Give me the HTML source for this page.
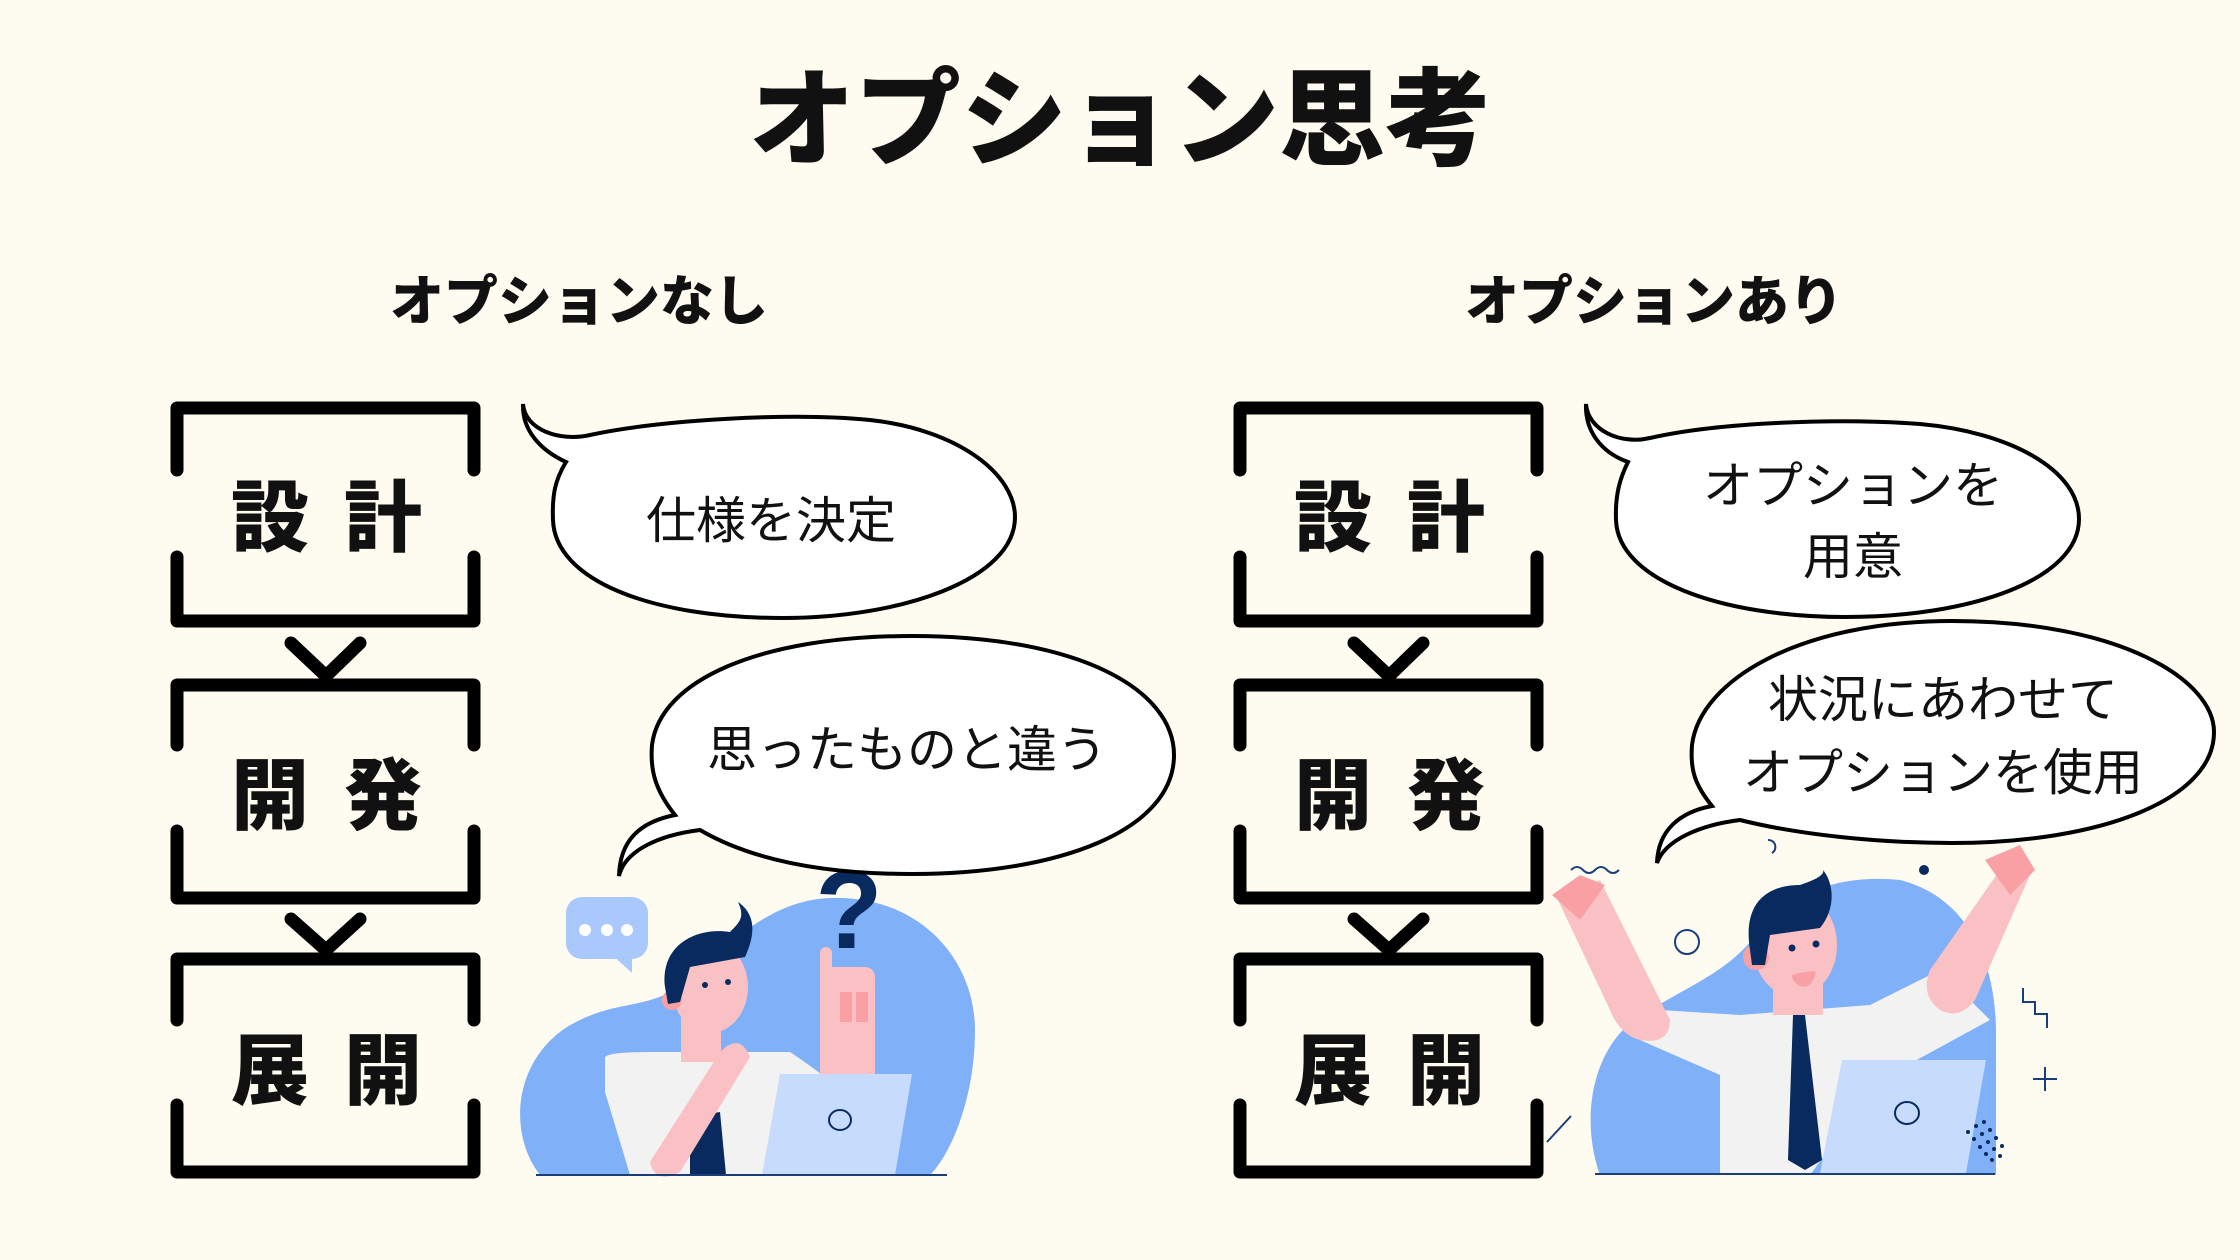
<!DOCTYPE html>
<html><head><meta charset="utf-8"><style>
html,body{margin:0;padding:0;background:#FEFCF0;}
svg{display:block;}
text{font-family:"Liberation Sans","Noto Sans CJK JP",sans-serif;}
</style></head><body>
<svg width="2240" height="1260" viewBox="0 0 2240 1260" xmlns="http://www.w3.org/2000/svg">
<rect width="2240" height="1260" fill="#FEFCF0"/>
<text x="1120" y="157" font-size="106" font-weight="900" text-anchor="middle" fill="#111">オプション思考</text>
<text x="579" y="320" font-size="54" font-weight="900" text-anchor="middle" fill="#111">オプションなし</text>
<text x="1654" y="320" font-size="54" font-weight="900" text-anchor="middle" fill="#111">オプションあり</text>

<g fill="none" stroke="#000" stroke-width="13" stroke-linecap="round" stroke-linejoin="round">
<g id="bx">
<path d="M177 470 V408 H474 V470"/><path d="M177 557 V621 H474 V557"/>
<path d="M177 745 V685 H474 V745"/><path d="M177 831 V898 H474 V831"/>
<path d="M177 1020 V959 H474 V1020"/><path d="M177 1105 V1172 H474 V1105"/>
<path d="M291 643 L326 676 L360 643"/><path d="M291 919 L326 950 L360 919"/>
</g>
<use href="#bx" transform="translate(1063,0)"/>
</g>
<g font-size="78" font-weight="900" text-anchor="middle" fill="#111">
<text x="270" y="545">設</text><text x="383" y="545">計</text>
<text x="270" y="823">開</text><text x="383" y="823">発</text>
<text x="270" y="1098">展</text><text x="383" y="1098">開</text>
<text x="1333" y="545">設</text><text x="1446" y="545">計</text>
<text x="1333" y="823">開</text><text x="1446" y="823">発</text>
<text x="1333" y="1098">展</text><text x="1446" y="1098">開</text>
</g>

<!-- left illustration -->
<g transform="translate(0,-30)">
<path d="M540 1205 C505 1160 515 1080 580 1050 C620 1030 650 1040 690 1010 C740 960 780 930 830 928 C920 925 975 990 975 1060 C975 1130 950 1185 930 1205 Z" fill="#80B0F8"/>
<g transform="translate(0,12)">
<path d="M605 1075 Q610 1070 650 1070 L790 1070 Q820 1090 830 1100 L820 1193 L630 1193 L605 1110 Z" fill="#F2F2F2"/>
<path d="M690 1135 L720 1130 L726 1193 L690 1193 Z" fill="#082A5E"/>
<rect x="681" y="1035" width="40" height="45" fill="#F9C1C3"/>
<ellipse cx="710" cy="1005" rx="38" ry="46" fill="#F9C1C3"/>
<circle cx="672" cy="1018" r="10" fill="#F9A0A5"/>
<path d="M665 1005 C660 960 700 945 730 950 C740 940 745 935 738 920 C760 935 752 960 745 975 L690 985 L680 1020 L668 1022 Z" fill="#082A5E"/>
<circle cx="705" cy="1003" r="3" fill="#082A5E"/><circle cx="728" cy="1000" r="3" fill="#082A5E"/>
<path d="M650 1180 L720 1070 Q740 1050 750 1075 L680 1190 Q655 1203 650 1180 Z" fill="#F9C1C3"/>
<rect x="820" y="985" width="55" height="115" rx="10" fill="#F9C1C3"/>
<rect x="820" y="965" width="12" height="40" rx="6" fill="#F9C1C3"/>
<path d="M840 1010 h12 v30 h-12z M856 1010 h12 v30 h-12z" fill="#F9A0A5"/>
</g>
<path d="M780 1104 L912 1104 L895 1205 L762 1205 Z" fill="#C7DCFC"/>
<ellipse cx="840" cy="1150" rx="11" ry="10" fill="none" stroke="#082A5E" stroke-width="2"/>
<line x1="536" y1="1205" x2="947" y2="1205" stroke="#1A3E7A" stroke-width="2"/>
</g>
<rect x="566" y="897" width="82" height="62" rx="16" fill="#A9C8FB"/>
<path d="M610 953 L632 973 L632 951 Z" fill="#A9C8FB"/>
<circle cx="585" cy="930" r="6" fill="#fff"/><circle cx="607" cy="930" r="6" fill="#fff"/><circle cx="627" cy="930" r="6" fill="#fff"/>
<text x="849" y="948" font-size="110" font-weight="900" text-anchor="middle" fill="#082A5E">?</text>

<!-- bubbles -->
<g fill="#fff" stroke="#000" stroke-width="4">
<path d="M523 404 C525 430 560 442 590 435 C660 420 790 412 870 420 C960 430 1015 475 1015 517 C1015 580 900 618 783 618 C650 618 555 580 553 520 C552 495 555 480 566 462 C540 450 522 430 523 404 Z"/>
<path d="M619 876 C620 840 640 822 675 815 C655 790 650 770 652 745 C660 680 760 636 912 636 C1080 636 1174 690 1174 755 C1174 830 1060 874 912 874 C840 874 760 865 700 830 C660 835 625 850 619 876 Z"/>
<path d="M1586 404 C1588 430 1620 445 1650 438 C1720 422 1840 418 1920 424 C2010 432 2079 470 2079 519 C2079 580 1970 617 1846 617 C1720 617 1618 580 1616 520 C1615 495 1620 478 1628 462 C1600 452 1585 430 1586 404 Z"/>
<path d="M1657 863 C1658 830 1680 812 1712 806 C1695 785 1690 770 1692 745 C1700 680 1800 621 1952 621 C2120 621 2214 680 2214 732 C2214 800 2100 843 1952 843 C1880 843 1800 835 1740 820 C1700 825 1665 840 1657 863 Z"/>
</g>
<g font-size="50" text-anchor="middle" fill="#111">
<text x="771" y="538">仕様を決定</text>
<text x="907" y="767">思ったものと違う</text>
<text x="1853" y="503">オプションを</text>
<text x="1853" y="574">用意</text>
<text x="1943" y="717">状況にあわせて</text>
<text x="1943" y="790">オプションを使用</text>
</g>

<!-- right illustration -->
<g transform="translate(0,-30)">
<path d="M1600 1205 C1580 1150 1590 1070 1650 1040 C1700 1010 1730 1000 1760 960 C1800 915 1850 905 1900 910 C1960 925 1995 980 1996 1060 L1996 1205 Z" fill="#80B0F8"/>
<path d="M1660 1040 L1740 1045 L1870 1035 L1940 1000 L1990 1050 L1880 1110 L1810 1205 L1720 1205 L1720 1105 L1640 1070 Z" fill="#F2F2F2"/>
<path d="M1793 1045 L1805 1045 L1822 1190 L1805 1200 L1788 1190 Z" fill="#082A5E"/>
<rect x="1773" y="1000" width="50" height="45" fill="#F9C1C3"/>
<ellipse cx="1795" cy="975" rx="42" ry="52" fill="#F9C1C3"/>
<circle cx="1756" cy="987" r="13" fill="#F9A0A5"/>
<path d="M1750 980 C1742 930 1770 915 1800 915 C1815 910 1825 905 1823 900 C1835 915 1835 940 1820 958 L1770 965 L1765 995 L1752 995 Z" fill="#082A5E"/>
<circle cx="1792" cy="978" r="3.5" fill="#082A5E"/><circle cx="1816" cy="974" r="3.5" fill="#082A5E"/>
<path d="M1792 1005 Q1812 1000 1816 1002 Q1812 1020 1800 1016 Q1792 1012 1792 1005 Z" fill="#F9A0A5"/>
<path d="M1558 930 L1600 910 L1670 1050 Q1670 1075 1640 1070 Q1620 1065 1610 1040 Z" fill="#F9C1C3"/>
<path d="M1552 925 L1580 905 L1605 915 L1580 950 Z" fill="#F9A0A5"/>
<path d="M2000 900 L2030 905 L1975 1030 Q1960 1050 1940 1040 Q1920 1025 1930 1000 Z" fill="#F9C1C3"/>
<path d="M1985 890 L2020 875 L2035 900 L2010 925 Z" fill="#F9A0A5"/>
<path d="M1842 1090 L1986 1090 L1966 1203 L1820 1203 Z" fill="#C7DCFC"/>
<ellipse cx="1907" cy="1143" rx="12" ry="11" fill="none" stroke="#082A5E" stroke-width="2"/>
<line x1="1595" y1="1204" x2="1995" y2="1204" stroke="#1A3E7A" stroke-width="2"/>
</g>
<!-- decorations -->
<path d="M1571 870 q6 -6 12 0 t12 0 t12 0 t12 0" fill="none" stroke="#1A3E7A" stroke-width="2"/>
<circle cx="1924" cy="870" r="5" fill="#082A5E"/>
<path d="M1768 840 a7 7 0 0 1 4 13" fill="none" stroke="#1A3E7A" stroke-width="2"/>
<g transform="translate(0,-8)">
<circle cx="1687" cy="950" r="12" fill="none" stroke="#1A3E7A" stroke-width="2"/>
<path d="M2023 996 v14 h12 v12 h12 v14" fill="none" stroke="#1A3E7A" stroke-width="2"/>
<path d="M2045 1075 v24 M2033 1087 h24" stroke="#1A3E7A" stroke-width="2"/>
<line x1="1547" y1="1150" x2="1571" y2="1124" stroke="#1A3E7A" stroke-width="2"/>
<g fill="#082A5E">
<circle cx="1968" cy="1140" r="2"/><circle cx="1976" cy="1134" r="2"/><circle cx="1984" cy="1130" r="2"/><circle cx="1974" cy="1147" r="2"/><circle cx="1982" cy="1142" r="2"/><circle cx="1990" cy="1138" r="2"/><circle cx="1980" cy="1155" r="2"/><circle cx="1988" cy="1150" r="2"/><circle cx="1996" cy="1146" r="2"/><circle cx="1986" cy="1162" r="2"/><circle cx="1994" cy="1157" r="2"/><circle cx="2002" cy="1154" r="2"/><circle cx="1992" cy="1168" r="2"/><circle cx="2000" cy="1164" r="2"/>
</g>
</g>
</svg>
</body></html>
